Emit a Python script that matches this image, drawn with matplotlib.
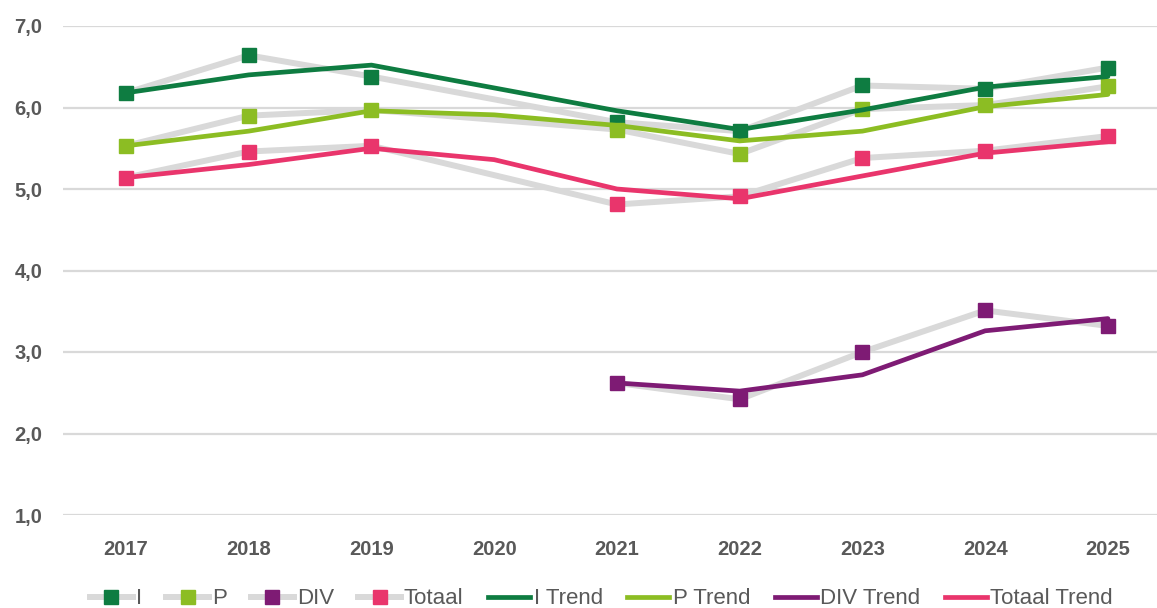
import numpy as np
import matplotlib
matplotlib.use("Agg")
import matplotlib.pyplot as plt
from matplotlib.lines import Line2D

years = ["2017", "2018", "2019", "2020", "2021", "2022", "2023", "2024", "2025"]
nan = np.nan

I_vals = [6.18, 6.64, 6.38, nan, 5.82, 5.71, 6.27, 6.23, 6.49]
P_vals = [5.53, 5.90, 5.97, nan, 5.73, 5.43, 5.98, 6.03, 6.26]
DIV_vals = [nan, nan, nan, nan, 2.62, 2.42, 3.00, 3.51, 3.32]
Totaal_vals = [5.14, 5.46, 5.53, nan, 4.81, 4.91, 5.38, 5.47, 5.65]

I_trend = [6.18, 6.40, 6.52, 6.24, 5.96, 5.73, 5.97, 6.25, 6.38]
P_trend = [5.53, 5.71, 5.96, 5.91, 5.78, 5.59, 5.71, 6.01, 6.16]
DIV_trend = [nan, nan, nan, nan, 2.62, 2.52, 2.72, 3.26, 3.41]
Totaal_trend = [5.14, 5.30, 5.50, 5.36, 5.00, 4.88, 5.16, 5.44, 5.58]

names = ["I", "P", "DIV", "Totaal"]
colors = ["#0e7c41", "#8cbd23", "#7e1b74", "#e9356c"]
raw_series = [I_vals, P_vals, DIV_vals, Totaal_vals]
trend_series = [I_trend, P_trend, DIV_trend, Totaal_trend]

grey = "#d9d9d9"
text_col = "#595959"

fig = plt.figure(figsize=(11.57, 6.08), dpi=100)
ax = fig.add_axes([63 / 1157, 1 - 515 / 608, 1 - 63 / 1157, (515 - 26) / 608])

x = np.arange(len(years))

for vals, c in zip(raw_series, colors):
    v = np.array(vals, dtype=float)
    m = ~np.isnan(v)
    ax.plot(x[m], v[m], color=grey, lw=4.3, solid_capstyle="round", zorder=2)
    ax.plot(x[m], v[m], ls="none", marker="s", ms=10.5, color=c, zorder=3)

for vals, c in zip(trend_series, colors):
    v = np.array(vals, dtype=float)
    m = ~np.isnan(v)
    ax.plot(x[m], v[m], color=c, lw=3.4, solid_capstyle="round", solid_joinstyle="round", zorder=4)

ax.set_xlim(-0.513, 8.40)
ax.set_ylim(1.0, 7.0)
ax.set_yticks(np.arange(1, 8))
ax.set_yticklabels([f"{t:.1f}".replace(".", ",") for t in range(1, 8)])
ax.set_xticks(x)
ax.set_xticklabels(years)
ax.grid(axis="y", color=grey, lw=1.6, zorder=0)
ax.set_axisbelow(True)
for s in ax.spines.values():
    s.set_visible(False)
ax.tick_params(length=0)
ax.tick_params(axis="y", pad=15)
ax.tick_params(axis="x", pad=18)
for lab in ax.get_xticklabels() + ax.get_yticklabels():
    lab.set_fontfamily("Liberation Sans")
    lab.set_fontweight("bold")
    lab.set_fontsize(14.5)
    lab.set_color(text_col)

handles = []
labels = []
for n, c in zip(names, colors):
    handles.append(Line2D([0], [0], color=grey, lw=4.3, marker="s", ms=10.5,
                          markerfacecolor=c, markeredgecolor=c))
    labels.append(n)
for n, c in zip(names, colors):
    handles.append(Line2D([0], [0], color=c, lw=3.4))
    labels.append(n + " Trend")

leg = fig.legend(handles, labels, loc="center", ncol=8,
                 bbox_to_anchor=(0.52, 1 - 599 / 608), frameon=False,
                 handlelength=1.9, handletextpad=0.15, columnspacing=1.1,
                 prop={"family": "Liberation Sans", "size": 16})
for t in leg.get_texts():
    t.set_color(text_col)

fig.savefig("out.png", dpi=100)
